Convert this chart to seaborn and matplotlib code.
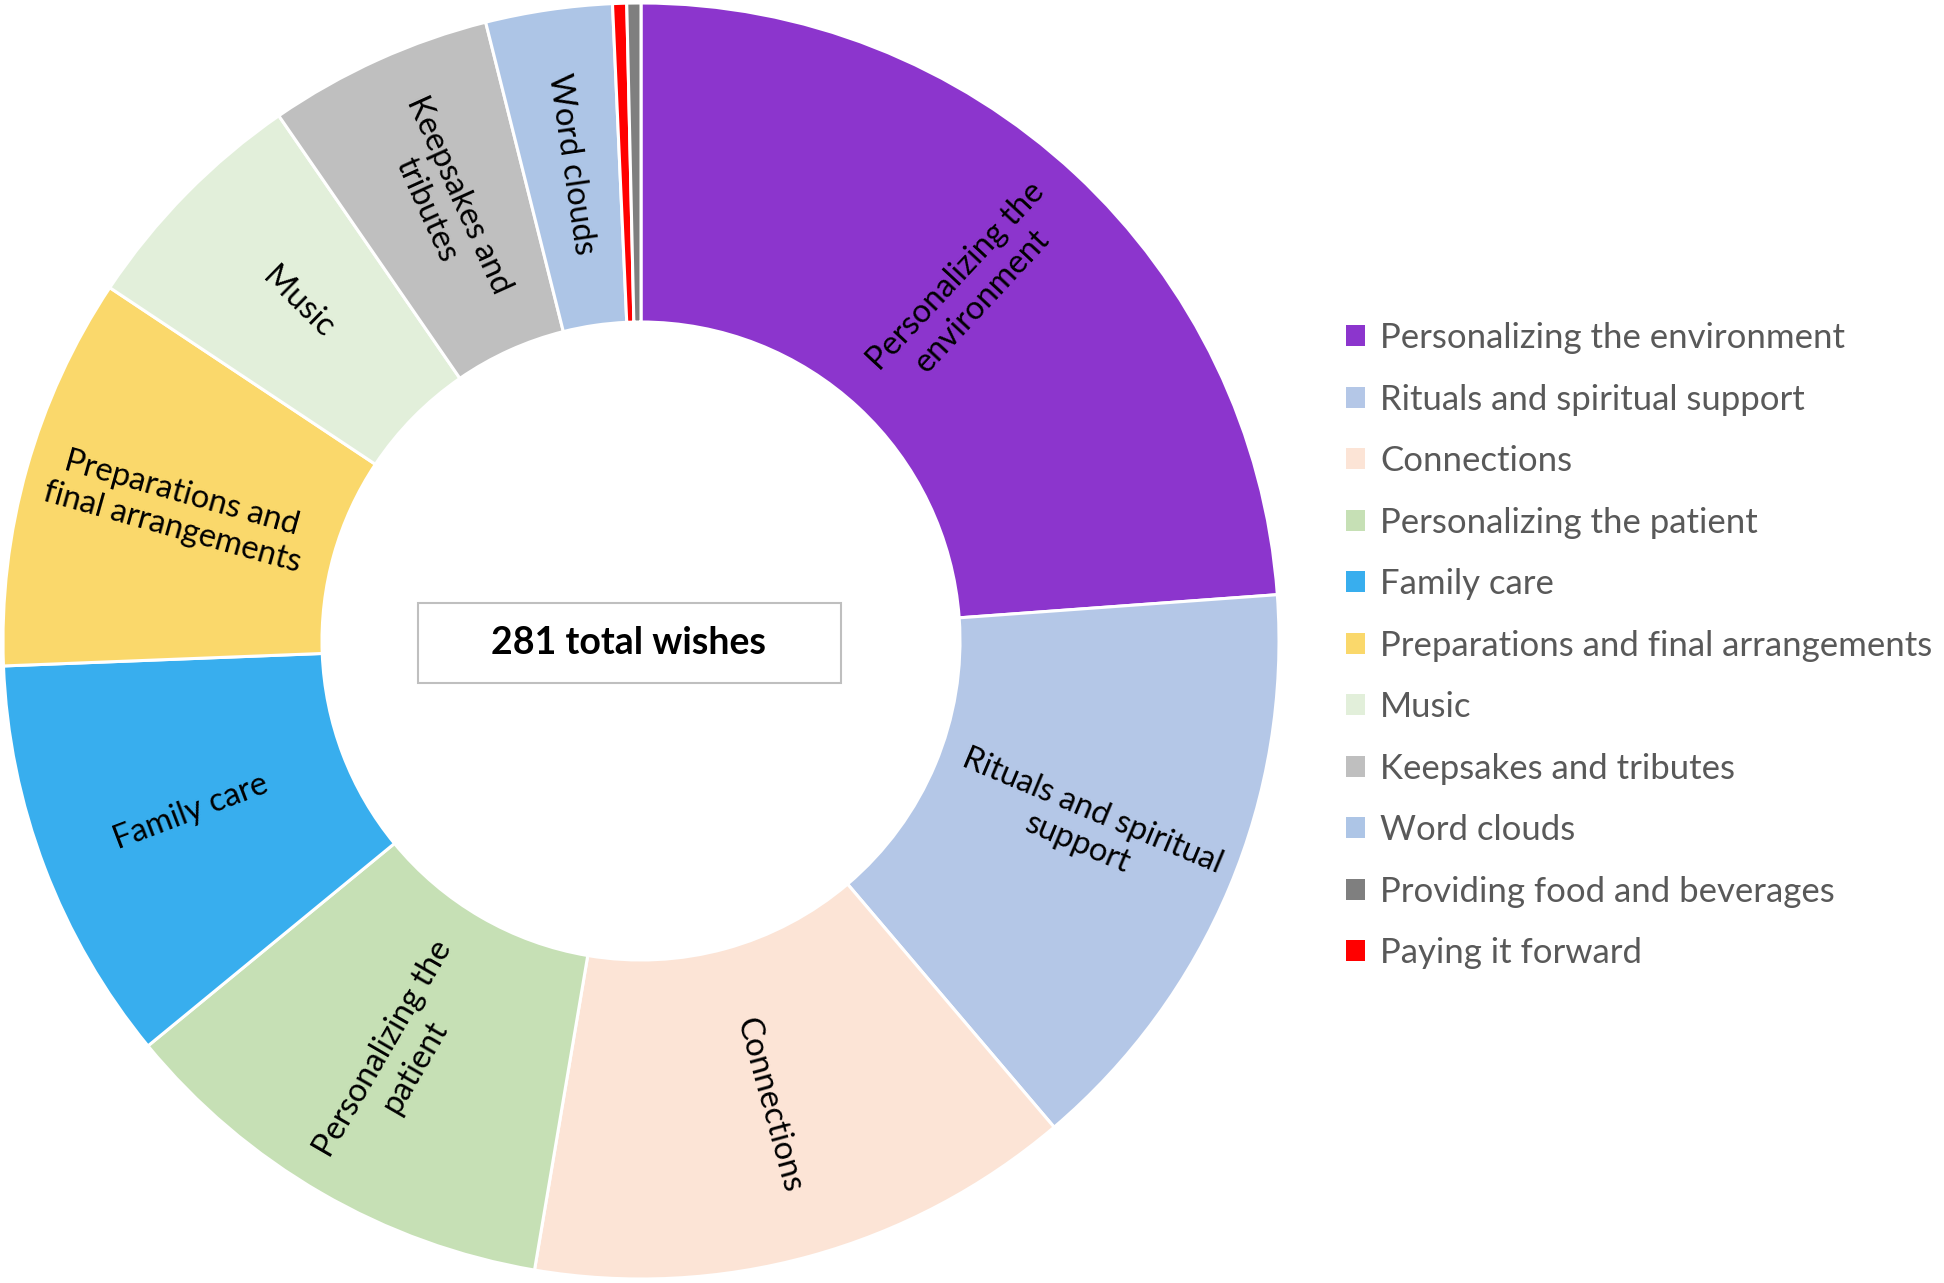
#!/usr/bin/env python
# -*- coding: utf-8 -*-

"""
Draws the donut chart of end-of-life wishes grouped by category.
"""
import sys
import numpy as np
import matplotlib
matplotlib.use("Agg")
import matplotlib.pyplot as plt
from matplotlib.patches import Patch, Rectangle
import seaborn as sns

# Data #

# wedge order, clockwise from 12 o'clock
CATEGORIES = ["Personalizing the environment", "Rituals and spiritual support", "Connections",
              "Personalizing the patient", "Family care", "Preparations and final arrangements",
              "Music", "Keepsakes and tributes", "Word clouds", "Paying it forward",
              "Providing food and beverages"]
WISH_COUNTS = [67, 42, 39, 32, 29, 28, 17, 16, 9, 1, 1]
WEDGE_LABELS = ["Personalizing the\nenvironment", "Rituals and spiritual\nsupport", "Connections",
                "Personalizing the\npatient", "Family care", "Preparations and\nfinal arrangements",
                "Music", "Keepsakes and\ntributes", "Word clouds", "", ""]
COLORS = ["#8C35CD", "#B4C7E7", "#FCE4D6", "#C6E0B5", "#38AEEE", "#FAD86B",
          "#E2EFDA", "#BFBFBF", "#ADC5E6", "#FF0000", "#7F7F7F"]
# the legend lists the last two the other way round
LEGEND_ORDER = ["Personalizing the environment", "Rituals and spiritual support", "Connections",
                "Personalizing the patient", "Family care", "Preparations and final arrangements",
                "Music", "Keepsakes and tributes", "Word clouds", "Providing food and beverages",
                "Paying it forward"]

FONT = ["Lato", "DejaVu Sans"]
W_PX, H_PX = 1944, 1283


def plot_donut(out_name):
    """
    Draws the donut with labels, centre box and legend
    @param out_name: file name of the picture
    """
    sns.set_theme(style="white")
    plt.rcParams["font.family"] = FONT

    fig = plt.figure(figsize=(W_PX / 100, H_PX / 100), dpi=100)
    ax = fig.add_axes([3 / W_PX, 4 / H_PX, 1276 / W_PX, 1276 / H_PX])

    wedges, _ = ax.pie(WISH_COUNTS, colors=COLORS, startangle=90, counterclock=False,
                       wedgeprops=dict(width=0.5, edgecolor="white", linewidth=2.2))
    ax.set_xlim(-1, 1)
    ax.set_ylim(-1, 1)
    ax.set_aspect("equal")
    ax.axis("off")

    # labels run along the radius, flipped on the left half
    for wedge, label in zip(wedges, WEDGE_LABELS):
        if not label:
            continue
        theta = (wedge.theta1 + wedge.theta2) / 2.0
        rad = np.deg2rad(theta)
        rot = theta
        if np.cos(rad) < 0:
            rot = theta + 180
        rot = (rot + 180) % 360 - 180
        ax.text(0.755 * np.cos(rad), 0.755 * np.sin(rad), label, rotation=rot,
                rotation_mode="anchor", ha="center", va="center", multialignment="center",
                fontsize=23.5, color="black", linespacing=1.25)

    # centre box
    ax.add_patch(Rectangle((-0.35, -0.066), 0.663, 0.126, facecolor="white",
                           edgecolor="#BFBFBF", linewidth=1.5))
    ax.text(-0.02, -0.003, "{} total wishes".format(sum(WISH_COUNTS)), ha="center", va="center",
            fontsize=27, fontweight="bold", color="black")

    color_of = dict(zip(CATEGORIES, COLORS))
    handles = [Patch(facecolor=color_of[name], edgecolor="none", label=name) for name in LEGEND_ORDER]
    fig.legend(handles=handles, loc="upper left", bbox_to_anchor=(1346 / W_PX, 1 - 322 / H_PX),
               frameon=False, fontsize=25, labelcolor="#595959", handlelength=0.55,
               handleheight=0.55, handletextpad=0.43, labelspacing=0.85, borderpad=0,
               borderaxespad=0)

    fig.savefig(out_name, dpi=100, facecolor="white")
    print("Wrote file: {}".format(out_name))


def main():
    plot_donut("out.png")
    return 0


if __name__ == '__main__':
    status = main()
    sys.exit(status)
